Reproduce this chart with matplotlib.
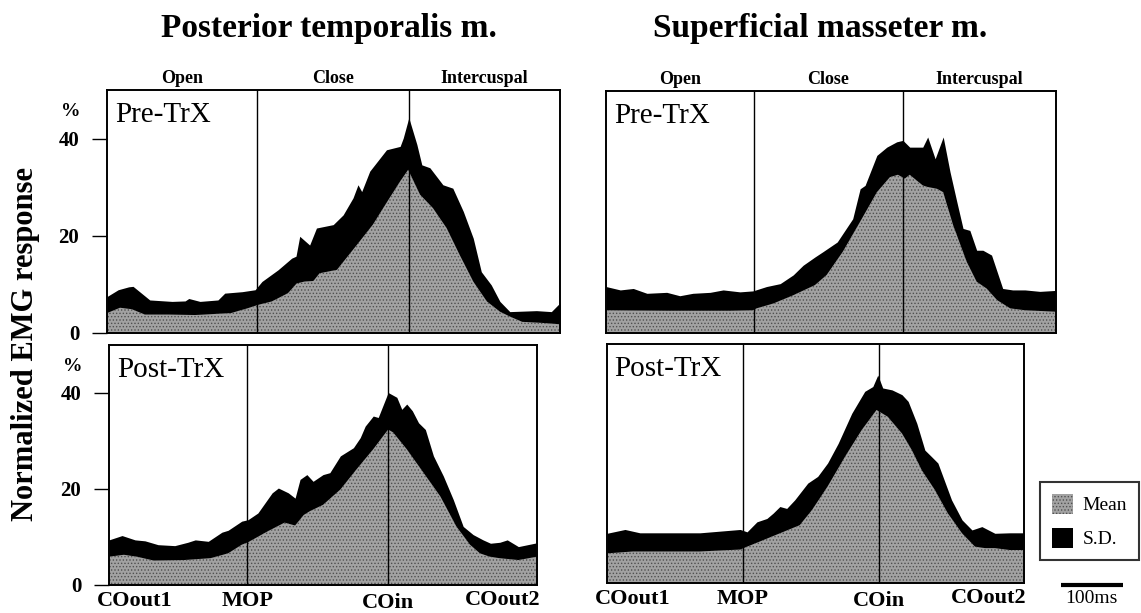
import matplotlib
matplotlib.use('Agg')
import matplotlib.pyplot as plt
from matplotlib.patches import Patch

plt.rcParams['font.family'] = ['Liberation Serif', 'DejaVu Serif']
plt.rcParams['hatch.linewidth'] = 0.6

# times in ms from COout1, values in % of max EMG
# event times: MOP, COin, COout2
pt_pre_events = [242, 487, 731]
pt_post_events = [223, 450, 690]
sm_pre_events = [239, 479, 726]
sm_post_events = [219, 439, 673]

# Posterior temporalis, Pre-TrX
pt_pre_sd_t = [0, 18, 35, 42, 69, 105, 126, 132, 150, 179, 190, 218, 239, 250, 276, 298, 305, 311,
               327, 338, 365, 381, 397, 405, 411, 424, 451, 473, 478, 487, 500, 508, 521, 542, 558,
               575, 591, 604, 620, 634, 650, 693, 717, 731]
pt_pre_sd = [7.5, 8.9, 9.5, 9.6, 6.8, 6.5, 6.6, 7.1, 6.5, 6.8, 8.2, 8.5, 8.9, 10.6, 13.0, 15.4, 15.8,
             19.9, 18.1, 21.6, 22.3, 24.3, 27.8, 30.5, 29.1, 33.3, 37.7, 38.4, 40.1, 44.3, 38.8, 34.6,
             34.0, 30.5, 29.8, 25.0, 19.5, 12.6, 9.9, 6.5, 4.4, 4.6, 4.4, 6.2]
pt_pre_mean_t = [0, 21, 40, 61, 100, 142, 200, 227, 244, 266, 292, 306, 319, 333, 343, 371, 403, 429,
                 456, 473, 486, 505, 526, 548, 569, 591, 613, 634, 650, 670, 700, 731]
pt_pre_mean = [4.1, 5.2, 4.9, 3.8, 3.8, 3.7, 4.1, 5.1, 5.8, 6.5, 8.2, 10.2, 10.6, 10.7, 12.3, 13.0,
               18.1, 22.3, 27.8, 31.2, 33.6, 28.5, 25.7, 21.6, 16.1, 10.6, 6.5, 4.4, 3.4, 2.3, 2.1, 1.8]

# Posterior temporalis, Post-TrX
pt_post_sd_t = [0, 21, 42, 58, 79, 106, 127, 139, 160, 182, 192, 214, 224, 240, 263, 273, 289, 300,
                308, 319, 329, 345, 356, 373, 394, 405, 413, 426, 434, 450, 464, 472, 480, 489, 499,
                510, 523, 539, 555, 571, 587, 603, 615, 630, 642, 660, 690]
pt_post_sd = [9.4, 10.3, 9.4, 9.2, 8.4, 8.2, 8.9, 9.4, 9.1, 11.0, 11.4, 13.3, 13.6, 15.0, 19.2, 20.2,
              19.2, 18.1, 22.0, 23.0, 21.6, 23.0, 23.4, 26.9, 28.6, 30.7, 33.1, 35.2, 34.9, 40.1, 39.1,
              36.6, 37.7, 36.3, 33.8, 32.4, 26.9, 22.7, 17.8, 12.2, 10.5, 9.4, 8.7, 8.9, 9.4, 8.0, 8.8]
pt_post_mean_t = [0, 24, 45, 72, 121, 164, 192, 214, 224, 256, 283, 300, 314, 324, 345, 373, 399, 426,
                  450, 458, 480, 507, 534, 560, 582, 598, 614, 629, 660, 690]
pt_post_mean = [5.9, 6.3, 5.9, 5.1, 5.2, 5.6, 6.6, 8.4, 8.9, 11.2, 13.0, 12.4, 14.6, 15.4, 16.7, 19.9,
                24.1, 28.3, 32.4, 31.8, 28.3, 23.4, 18.5, 12.2, 8.4, 6.6, 5.9, 5.6, 5.2, 5.9]

# Superficial masseter, Pre-TrX
sm_pre_sd_t = [0, 23, 44, 66, 98, 119, 140, 168, 189, 216, 237, 259, 281, 302, 318, 337, 350, 373,
               398, 410, 418, 437, 453, 469, 479, 490, 511, 519, 531, 544, 555, 566, 576, 587, 598,
               608, 622, 640, 656, 676, 700, 726]
sm_pre_sd = [9.6, 8.9, 9.2, 8.2, 8.4, 7.7, 8.2, 8.4, 8.9, 8.5, 8.7, 9.6, 10.2, 12.0, 14.0, 15.7, 16.8,
             18.8, 23.6, 29.8, 30.5, 36.7, 38.4, 39.5, 39.8, 38.4, 38.4, 40.5, 36.0, 40.5, 33.3, 27.1,
             21.6, 21.2, 17.1, 17.1, 16.1, 9.2, 8.9, 8.9, 8.6, 8.8]
sm_pre_mean_t = [0, 100, 200, 237, 243, 270, 302, 337, 356, 382, 410, 437, 458, 471, 482, 490, 511,
                 518, 534, 544, 560, 582, 598, 614, 631, 652, 676, 726]
sm_pre_mean = [4.7, 4.6, 4.6, 4.7, 5.1, 6.1, 7.8, 9.9, 12.0, 16.8, 23.0, 29.1, 32.2, 32.7, 31.9, 32.7,
               30.5, 30.2, 29.8, 29.1, 22.3, 14.7, 10.6, 9.2, 6.8, 5.1, 4.7, 4.4]

# Superficial masseter, Post-TrX
sm_post_sd_t = [0, 29, 53, 97, 150, 215, 226, 242, 258, 268, 279, 290, 303, 324, 340, 356, 373, 395,
                416, 429, 437, 445, 460, 476, 486, 500, 513, 524, 534, 542, 556, 573, 589, 605, 626,
                650, 673]
sm_post_sd = [10.4, 11.2, 10.5, 10.5, 10.5, 11.2, 10.7, 12.8, 13.5, 14.6, 16.0, 15.6, 17.4, 20.9, 22.3,
              25.1, 29.2, 35.5, 40.1, 41.1, 43.5, 40.8, 40.4, 39.4, 38.0, 33.4, 27.8, 26.4, 25.1, 22.3,
              17.4, 13.2, 11.1, 11.8, 10.4, 10.5, 10.5]
sm_post_mean_t = [0, 42, 150, 215, 226, 247, 279, 311, 331, 356, 384, 411, 435, 453, 476, 492, 508,
                  529, 550, 573, 594, 610, 626, 650, 673]
sm_post_mean = [6.2, 6.6, 6.6, 7.0, 7.6, 8.7, 10.4, 12.1, 15.3, 20.2, 26.4, 32.0, 36.2, 34.8, 31.3,
                27.8, 23.6, 19.5, 14.6, 10.4, 7.6, 7.3, 7.3, 6.9, 6.9]

phase_names = ['Open', 'Close', 'Intercuspal']
event_names = ['COout1', 'MOP', 'COin', 'COout2']
y_ticks = [0, 20, 40]

MEAN_FC = '#a2a2a2'
MEAN_HC = '#505050'

W, H = 1141, 613
fig = plt.figure(figsize=(W / 100, H / 100), dpi=100)


def rect(l, t, r, b):
    return [l / W, 1 - b / H, (r - l) / W, (b - t) / H]


def panel(box, sd_t, sd, mean_t, mean, events, label, yaxis, phases, xlabels):
    ax = fig.add_axes(box)
    mop, coin, end = events
    ax.fill_between(sd_t, 0, sd, color='black', lw=0)
    ax.fill_between(mean_t, 0, mean, facecolor=MEAN_FC, edgecolor=MEAN_HC, hatch='.....', lw=0)
    ax.axvline(mop, color='black', lw=1.0)
    ax.axvline(coin, color='black', lw=1.0)
    ax.set_xlim(0, end)
    ax.set_ylim(0, 50)
    ax.set_xticks([])
    for s in ax.spines.values():
        s.set_linewidth(1.4)
    if yaxis:
        ax.set_yticks(y_ticks)
        ax.set_yticklabels([str(v) for v in y_ticks], fontsize=15, fontweight='bold')
        ax.tick_params(axis='y', direction='out', length=11, width=1, pad=9)
        ax.annotate('%', xy=(0, 45.5), xytext=(-36, 0), textcoords='offset pixels',
                    ha='center', va='center', fontsize=14, fontweight='bold',
                    annotation_clip=False)
    else:
        ax.set_yticks([])
    ax.text(0.018, 0.868, label, transform=ax.transAxes, fontsize=21, va='baseline')
    if phases:
        bounds = [0, mop, coin, end]
        for i, name in enumerate(phase_names):
            ax.annotate(name, xy=((bounds[i] + bounds[i + 1]) / 2, 1),
                        xycoords=('data', 'axes fraction'), xytext=(0, 3),
                        textcoords='offset pixels', ha='center', va='bottom',
                        fontsize=13, fontweight='bold', annotation_clip=False)
    if xlabels:
        spots = [(0, 'left', -12, 0), (mop, 'center', 0, 0), (coin, 'center', 0, 2),
                 (end, 'right', 3, -1)]
        for name, (t, ha, dx, dy) in zip(event_names, spots):
            ax.annotate(name, xy=(t, 0), xycoords=('data', 'axes fraction'),
                        xytext=(dx, -16 - dy), textcoords='offset pixels', ha=ha, va='center',
                        fontsize=16, fontweight='bold', annotation_clip=False)
    return ax


panel(rect(107, 90, 560, 333), pt_pre_sd_t, pt_pre_sd, pt_pre_mean_t, pt_pre_mean,
      pt_pre_events, 'Pre-TrX', True, True, False)
panel(rect(109, 345, 537, 585), pt_post_sd_t, pt_post_sd, pt_post_mean_t, pt_post_mean,
      pt_post_events, 'Post-TrX', True, False, True)
panel(rect(606, 91, 1056, 333), sm_pre_sd_t, sm_pre_sd, sm_pre_mean_t, sm_pre_mean,
      sm_pre_events, 'Pre-TrX', False, True, False)
ax_br = panel(rect(607, 344, 1024, 583), sm_post_sd_t, sm_post_sd, sm_post_mean_t, sm_post_mean,
              sm_post_events, 'Post-TrX', False, False, True)

# 100 ms scale bar
bar_start = sm_post_events[2] + 59
ax_br.plot([bar_start, bar_start + 100], [-0.4, -0.4], color='black', lw=3,
           solid_capstyle='butt', clip_on=False)
ax_br.text(bar_start + 50, -3.2, '100ms', ha='center', va='center', fontsize=14, clip_on=False)

fig.text(329 / W, 1 - 37 / H, 'Posterior temporalis m.', ha='center', va='baseline',
         fontsize=24, fontweight='bold')
fig.text(820 / W, 1 - 37 / H, 'Superficial masseter m.', ha='center', va='baseline',
         fontsize=24, fontweight='bold')
fig.text(26 / W, 1 - 344 / H, 'Normalized EMG response', rotation=90, ha='center', va='center',
         fontsize=22, fontweight='bold')

handles = [Patch(facecolor=MEAN_FC, edgecolor=MEAN_HC, hatch='.....', lw=0),
           Patch(facecolor='black', lw=0)]
leg = fig.legend(handles, ['Mean', 'S.D.'], loc='upper left',
                 bbox_to_anchor=(1040 / W, 1 - 482 / H), frameon=True, fancybox=False,
                 edgecolor='black', handlelength=1.1, handleheight=1.2, fontsize=14,
                 borderpad=0.6, labelspacing=0.7, handletextpad=0.5, borderaxespad=0)
leg.get_frame().set_linewidth(1.5)

fig.savefig('out.png', dpi=100)
